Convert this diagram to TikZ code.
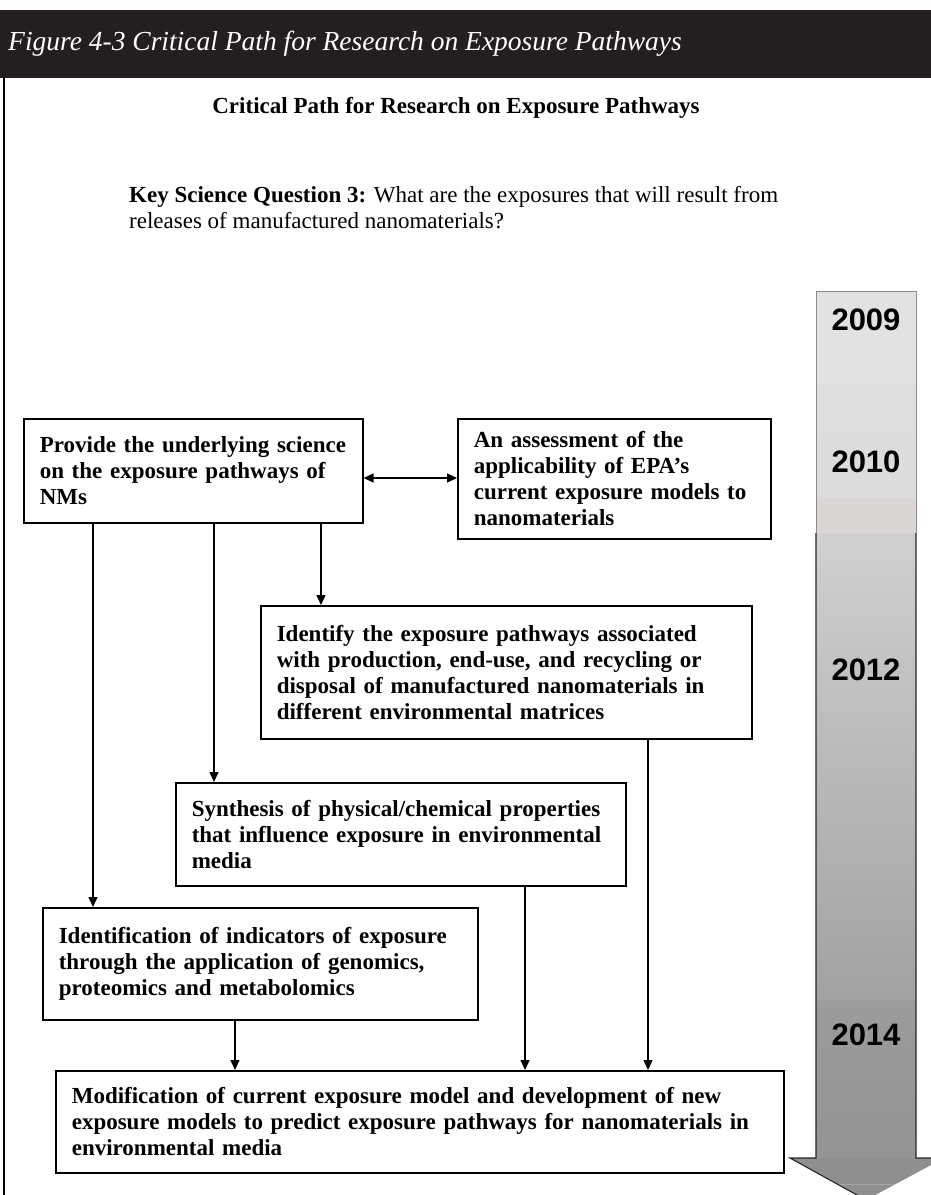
\documentclass[tikz,border=0pt]{standalone}
\usepackage{fontspec}
\setmainfont{Liberation Serif}
\newfontfamily\yearfont{Liberation Sans}
\usetikzlibrary{arrows.meta}
\definecolor{barblack}{HTML}{231F20}
\definecolor{tlA}{HTML}{E2E2E2}
\definecolor{tlB}{HTML}{DEDEDE}
\definecolor{tlC}{HTML}{DCDCDC}
\definecolor{tlD}{HTML}{DAD6D5}
\definecolor{tlE}{HTML}{D0D0D0}
\definecolor{tlF}{HTML}{A2A2A2}
\definecolor{tlG}{HTML}{9C9C9C}
\definecolor{tlH}{HTML}{939393}
\definecolor{tlHead}{HTML}{8F8F8F}
\definecolor{tlSeam}{HTML}{A6A6A6}
\begin{document}
\begin{tikzpicture}[x=1pt,y=-1pt,
  stepbox/.style={draw=black, line width=1.6pt, fill=white, anchor=north west,
    inner xsep=16pt, inner ysep=0pt, align=left,
    font=\fontsize{23}{26}\selectfont\bfseries},
  flow/.style={line width=1.4pt, -{Triangle[length=10pt,width=9pt]}},
  both/.style={line width=1.4pt, {Triangle[length=10pt,width=9pt]}-{Triangle[length=10pt,width=9pt]}},
  year/.style={font=\yearfont\fontsize{31}{31}\selectfont\bfseries, inner sep=0pt}]
\useasboundingbox (0,0) rectangle (931,1195);

% header bar with figure caption
\fill[barblack] (0,10) rectangle (931,78);
\node[anchor=west, text=white, inner sep=0pt, font=\fontsize{27.5}{30}\selectfont\itshape]
  (caption) at (8,44) {Figure 4-3 Critical Path for Research on Exposure Pathways};
\draw[line width=1.3pt] (4,78) -- (4,1195);

% heading and key question
\node[inner sep=0pt, font=\fontsize{23}{26}\selectfont\bfseries] (heading) at (456,108)
  {Critical Path for Research on Exposure Pathways};
\node[anchor=north west, inner sep=0pt, align=left, font=\fontsize{23}{26}\selectfont] (ksq) at (129,186)
  {\textbf{Key Science Question 3:} What are the exposures that will result from\\
   releases of manufactured nanomaterials?};

% timeline arrow: stacked shaded segments, then its outline
\begin{scope}
  \clip (0,0) rectangle (931,1195);
  \fill[tlA] (816,291) rectangle (916,385);
  \fill[tlB] (816,385) rectangle (916,434);
  \fill[tlC] (816,434) rectangle (916,499);
  \fill[tlD] (816,499) rectangle (916,533);
  \fill[top color=tlE, bottom color=tlF] (816,533) rectangle (916,1000);
  \fill[top color=tlG, bottom color=tlH] (816,1000) rectangle (916,1158);
  \fill[tlHead] (790,1158) -- (944,1158) -- (866,1200) -- cycle;
  \draw[tlSeam, line width=0.6pt] (838,1184) -- (895,1184);
  \draw[black!45, line width=1pt] (816,533) -- (816,291) -- (916,291) -- (916,533);
  \draw[black!85, line width=1.1pt] (816,533) -- (816,1158) -- (790,1158) -- (866,1200)
    (916,533) -- (916,1158) -- (944,1158);
\end{scope}
\node[year] (y2009) at (866,320) {2009};
\node[year] (y2010) at (866,462) {2010};
\node[year] (y2012) at (866,670) {2012};
\node[year] (y2014) at (866,1035) {2014};

% boxes
\node[stepbox, minimum width=339pt, minimum height=104pt, text width=307pt] (science) at (23,418)
  {Provide the underlying science\\ on the exposure pathways of\\ NMs};
\node[stepbox, minimum width=313pt, minimum height=120pt, text width=281pt] (assess) at (457,418)
  {An assessment of the\\ applicability of EPA’s\\ current exposure models to\\ nanomaterials};
\node[stepbox, minimum width=491pt, minimum height=133pt, text width=459pt] (identify) at (260,605)
  {Identify the exposure pathways associated\\ with production, end-use, and recycling or\\
   disposal of manufactured nanomaterials in\\ different environmental matrices};
\node[stepbox, minimum width=450pt, minimum height=103pt, text width=418pt] (synth) at (175,782)
  {Synthesis of physical/chemical properties\\ that influence exposure in environmental\\ media};
\node[stepbox, minimum width=435pt, minimum height=112pt, text width=403pt] (indic) at (42,907)
  {Identification of indicators of exposure\\ through the application of genomics,\\
   proteomics and metabolomics};
\node[stepbox, minimum width=728pt, minimum height=102pt, text width=696pt] (modif) at (55,1070)
  {Modification of current exposure model and development of new\\
   exposure models to predict exposure pathways for nanomaterials in\\ environmental media};

% connectors
\draw[both] (science.east |- 0,478) -- (assess.west |- 0,478);
\draw[flow] (science.south -| 93,0) -- (indic.north -| 93,0);
\draw[flow] (science.south -| 214,0) -- (synth.north -| 214,0);
\draw[flow] (science.south -| 321,0) -- (identify.north -| 321,0);
\draw[flow] (indic.south -| 235,0) -- (modif.north -| 235,0);
\draw[flow] (synth.south -| 525,0) -- (modif.north -| 525,0);
\draw[flow] (identify.south -| 648,0) -- (modif.north -| 648,0);
\end{tikzpicture}
\end{document}
